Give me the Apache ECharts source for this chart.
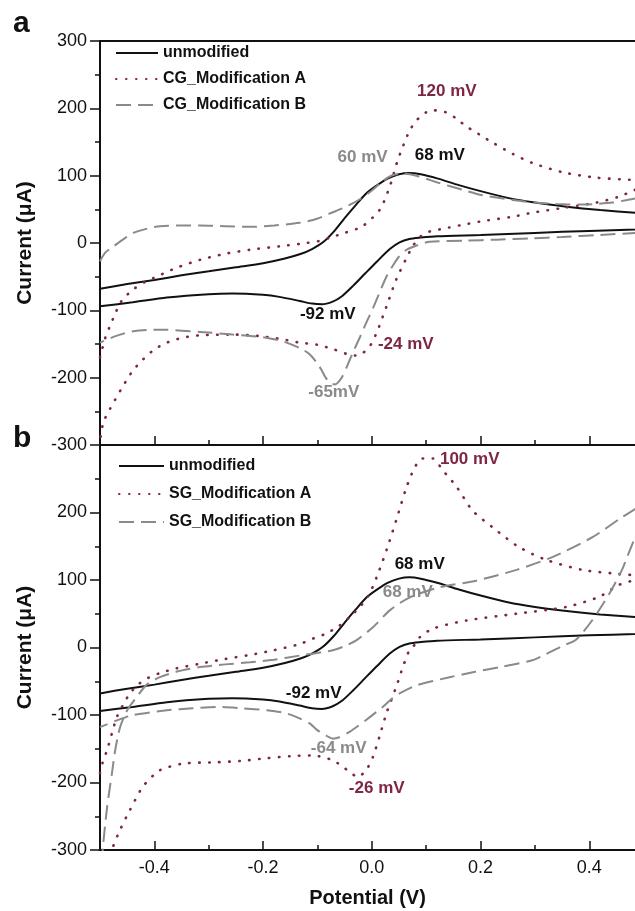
<!DOCTYPE html>
<html>
<head>
<meta charset="utf-8">
<script src="https://cdn.jsdelivr.net/npm/echarts@6/dist/echarts.min.js"></script>
<style>html,body{margin:0;padding:0;background:#fff}#c{width:635px;height:911px}</style>
</head>
<body>
<div id="c"></div>
<script>
// ---------- data ----------
const xTickValues = [-0.4, -0.2, 0, 0.2, 0.4];
const xMinorTickValues = [-0.5, -0.3, -0.1, 0.1, 0.3];

const unmodified = [
  [-0.5,-68],[-0.45,-61],[-0.4,-55],[-0.35,-48],[-0.3,-42],[-0.25,-36],[-0.2,-30],[-0.16,-23],[-0.13,-16],[-0.11,-9],
  [-0.09,1],[-0.07,17],[-0.05,37],[-0.03,56],[-0.01,74],[0.01,86],[0.03,96],[0.05,102],[0.069,104],[0.09,102],
  [0.12,96],[0.16,86],[0.2,77],[0.25,67],[0.3,60],[0.358,54],[0.42,49],[0.484,45],[0.5,44],
  [0.5,21],[0.484,20],[0.4,18],[0.3,15],[0.2,12],[0.12,10],[0.09,8],[0.069,6],[0.051,1],[0.033,-9],[0.01,-27],
  [-0.012,-45],[-0.035,-64],[-0.055,-79],[-0.072,-87],[-0.092,-91],[-0.11,-90],[-0.133,-86],[-0.17,-80],[-0.2,-77],
  [-0.256,-75],[-0.3,-76],[-0.377,-81],[-0.44,-88],[-0.5,-94]
];

const cgModificationA = [
  [-0.5,-170],[-0.49,-140],[-0.482,-124],[-0.472,-105],[-0.463,-89],[-0.45,-77],[-0.439,-69],[-0.42,-59],[-0.396,-50],
  [-0.36,-37],[-0.316,-25],[-0.27,-16],[-0.224,-10],[-0.17,-5],[-0.12,0],[-0.09,4],[-0.077,8],[-0.05,15],[-0.017,25],
  [0.015,50],[0.033,84],[0.046,119],[0.055,139],[0.069,166],[0.082,182],[0.1,194],[0.115,197],[0.137,194],[0.155,185],
  [0.174,173],[0.2,160],[0.222,149],[0.26,132],[0.295,119],[0.351,105],[0.413,97],[0.474,94],[0.5,93],
  [0.5,84],[0.484,79],[0.455,69],[0.413,60],[0.351,52],[0.295,45],[0.259,39],[0.2,32],[0.167,27],[0.13,21],[0.106,17],
  [0.09,10],[0.075,-5],[0.064,-22],[0.045,-54],[0.027,-94],[0.009,-133],[-0.005,-155],[-0.018,-164],[-0.03,-167],
  [-0.045,-165],[-0.07,-158],[-0.101,-151],[-0.133,-148],[-0.164,-143],[-0.21,-138],[-0.256,-136],[-0.316,-137],
  [-0.35,-141],[-0.377,-148],[-0.4,-158],[-0.421,-173],[-0.44,-190],[-0.458,-213],[-0.482,-247],[-0.494,-267],[-0.501,-300]
];

const cgModificationB = [
  [-0.5,-27],[-0.49,-14],[-0.475,-5],[-0.458,5],[-0.439,15],[-0.415,21],[-0.39,25],[-0.35,26],[-0.316,26],[-0.27,25],
  [-0.224,24],[-0.18,26],[-0.133,30],[-0.101,36],[-0.077,44],[-0.05,53],[-0.022,65],[0,78],[0.02,92],[0.039,101],
  [0.06,103],[0.082,100],[0.124,89],[0.167,79],[0.203,71],[0.259,64],[0.3,60],[0.34,58],[0.382,57],[0.413,58],
  [0.443,60],[0.47,64],[0.484,66],[0.5,70],
  [0.5,16],[0.484,15],[0.42,12],[0.35,9],[0.295,7],[0.23,5],[0.174,3.5],[0.106,2],[0.085,-3],[0.064,-10],[0.05,-20],
  [0.04,-32],[0.028,-48],[0.015,-72],[0.003,-95],[-0.01,-118],[-0.022,-140],[-0.035,-163],[-0.045,-182],[-0.054,-198],
  [-0.062,-207],[-0.068,-210],[-0.076,-208],[-0.085,-200],[-0.093,-188],[-0.101,-178],[-0.115,-165],[-0.13,-157],
  [-0.164,-146],[-0.2,-140],[-0.256,-136],[-0.316,-132],[-0.377,-129],[-0.41,-129],[-0.439,-131],[-0.47,-138],[-0.5,-148]
];

const sgModificationA = [
  [-0.5,-186],[-0.495,-170],[-0.487,-152],[-0.478,-127],[-0.469,-103],[-0.457,-84],[-0.445,-68],[-0.43,-55],[-0.414,-46],
  [-0.39,-38],[-0.36,-31],[-0.316,-24],[-0.27,-17],[-0.224,-11],[-0.18,-4],[-0.133,5],[-0.109,13],[-0.083,21],[-0.06,32],
  [-0.041,45],[-0.02,62],[-0.004,80],[0.014,115],[0.029,149],[0.045,189],[0.064,238],[0.079,267],[0.093,280],[0.112,280],
  [0.13,263],[0.156,238],[0.185,203],[0.222,178],[0.27,149],[0.32,130],[0.387,115],[0.44,110],[0.484,107],[0.5,106],
  [0.5,104],[0.484,100],[0.455,93],[0.418,75],[0.357,60],[0.266,50],[0.174,40],[0.112,28],[0.088,15],[0.075,0],
  [0.069,-4],[0.057,-29],[0.045,-58],[0.027,-97],[0.014,-132],[0.002,-162],[-0.01,-181],[-0.026,-192],[-0.041,-184],
  [-0.072,-167],[-0.109,-160],[-0.15,-161],[-0.193,-164],[-0.24,-168],[-0.285,-170],[-0.347,-172],[-0.39,-182],
  [-0.421,-206],[-0.445,-241],[-0.463,-270],[-0.476,-295],[-0.485,-320]
];

const sgModificationB = [
  [-0.497,-320],[-0.494,-290],[-0.487,-237],[-0.478,-186],[-0.472,-152],[-0.463,-118],[-0.45,-93],[-0.432,-73],
  [-0.414,-55],[-0.39,-44],[-0.36,-36],[-0.316,-29],[-0.27,-25],[-0.224,-22],[-0.18,-18],[-0.133,-12],[-0.1,-8],
  [-0.072,-4],[-0.05,2],[-0.028,11],[0.002,30],[0.033,55],[0.069,74],[0.124,89],[0.192,99],[0.266,115],[0.332,134],
  [0.405,163],[0.46,193],[0.484,205],[0.5,215],
  [0.5,195],[0.484,163],[0.47,135],[0.46,115],[0.437,80],[0.405,40],[0.376,12],[0.35,2],[0.32,-10],[0.295,-19],
  [0.235,-29],[0.19,-36],[0.143,-44],[0.082,-56],[0.051,-68],[0.035,-77],[0.02,-88],[-0.01,-107],[-0.041,-125],
  [-0.06,-133],[-0.072,-135],[-0.085,-130],[-0.101,-122],[-0.115,-112],[-0.133,-105],[-0.16,-97],[-0.193,-93],
  [-0.24,-90],[-0.285,-88],[-0.33,-90],[-0.377,-93],[-0.439,-100],[-0.469,-108],[-0.5,-118]
];

const legendNamesA = ['unmodified', 'CG_Modification A', 'CG_Modification B'];
const legendNamesB = ['unmodified', 'SG_Modification A', 'SG_Modification B'];
const peakTextsA = ['120 mV', '60 mV', '68 mV', '-92 mV', '-24 mV', '-65mV'];
const peakTextsB = ['100 mV', '68 mV', '68 mV', '-92 mV', '-64 mV', '-26 mV'];

// ---------- styling / layout ----------
const FONT = 'Liberation Sans, Arial, Helvetica, sans-serif';
const BLACK = '#111111';
const MAROON = '#7e2645';
const GRAY = '#8a8a8a';
const styles = [
  { color: BLACK, width: 2, type: 'solid' },
  { color: MAROON, width: 2.6, type: [0.5, 9.5], cap: 'round' },
  { color: GRAY, width: 2, type: [15, 7] }
];
// label anchors (data coordinates of label centers) and colours
const peakPosA = [[0.138,225],[-0.017,128],[0.125,130],[-0.081,-106],[0.0625,-151],[-0.07,-222]];
const peakPosB = [[0.18,279],[0.088,123],[0.066,82],[-0.107,-68],[-0.061,-149],[0.009,-208]];
const peakColA = [MAROON, GRAY, BLACK, BLACK, MAROON, GRAY];
const peakColB = [MAROON, BLACK, GRAY, BLACK, GRAY, MAROON];

const XMIN = -0.5, XMAX = 0.484;

function lineSeries(name, data, xi, yi, st) {
  return {
    type: 'line', name, data, xAxisIndex: xi, yAxisIndex: yi,
    symbol: 'none', showSymbol: false, smooth: 0.25, clip: true,
    animation: false, silent: true,
    lineStyle: { color: st.color, width: st.width, type: st.type, cap: st.cap || 'butt' },
    itemStyle: { color: st.color }
  };
}
function labelSeries(texts, pos, cols, xi, yi) {
  return {
    type: 'scatter', xAxisIndex: xi, yAxisIndex: yi, symbolSize: 1, silent: true, animation: false,
    itemStyle: { color: 'rgba(0,0,0,0)', opacity: 1 }, z: 10,
    data: texts.map((t, i) => ({
      name: t, value: pos[i],
      label: { show: true, position: 'inside', formatter: t, color: cols[i], opacity: 1,
               fontSize: 17, fontWeight: 'bold', fontFamily: FONT }
    }))
  };
}
function xAxisBase(gi) {
  return { type: 'value', gridIndex: gi, min: XMIN, max: XMAX, splitLine: { show: false } };
}
function yAxisDef(gi, showMax) {
  return {
    type: 'value', gridIndex: gi, min: -300, max: 300, interval: 100,
    axisLine: { show: true, onZero: false, lineStyle: { color: BLACK, width: 2 } },
    axisTick: { show: true, inside: false, length: 10, lineStyle: { color: BLACK, width: 1.5 } },
    minorTick: { show: true, splitNumber: 2, length: 5, lineStyle: { color: BLACK, width: 1.5 } },
    splitLine: { show: false },
    axisLabel: { fontSize: 18, color: BLACK, fontFamily: FONT, margin: 13, showMaxLabel: showMax },
    name: 'Current (\u03bcA)', nameLocation: 'middle', nameGap: 64,
    nameTextStyle: { fontSize: 21, fontWeight: 'bold', color: BLACK, fontFamily: FONT }
  };
}
const legendText = { fontSize: 16, fontWeight: 'bold', color: BLACK, fontFamily: FONT };

const chart = echarts.init(document.getElementById('c'), null, { renderer: 'canvas' });
const option = {
  animation: false,
  backgroundColor: '#fff',
  grid: [
    { left: 100, top: 41, right: 0, height: 404, containLabel: false },
    { left: 100, top: 445, right: 0, height: 405, containLabel: false }
  ],
  xAxis: [
    Object.assign(xAxisBase(0), {
      position: 'bottom',
      axisLine: { show: true, onZero: false, lineStyle: { color: BLACK, width: 2 } },
      axisTick: { show: true, inside: true, length: 9, customValues: xTickValues, lineStyle: { color: BLACK, width: 1.5 } },
      axisLabel: { show: false }
    }),
    Object.assign(xAxisBase(0), {
      position: 'bottom',
      axisLine: { show: false, onZero: false },
      axisTick: { show: true, inside: true, length: 5, customValues: xMinorTickValues, lineStyle: { color: BLACK, width: 1.5 } },
      axisLabel: { show: false }
    }),
    Object.assign(xAxisBase(0), {
      position: 'top',
      axisLine: { show: true, onZero: false, lineStyle: { color: BLACK, width: 2 } },
      axisTick: { show: false }, axisLabel: { show: false }
    }),
    Object.assign(xAxisBase(1), {
      position: 'bottom',
      axisLine: { show: true, onZero: false, lineStyle: { color: BLACK, width: 2 } },
      axisTick: { show: true, inside: true, length: 9, customValues: xTickValues, lineStyle: { color: BLACK, width: 1.5 } },
      axisLabel: { show: true, customValues: xTickValues, formatter: v => v.toFixed(1),
                   fontSize: 18, color: BLACK, fontFamily: FONT, margin: 9 },
      name: 'Potential (V)', nameLocation: 'middle', nameGap: 38,
      nameTextStyle: { fontSize: 20, fontWeight: 'bold', color: BLACK, fontFamily: FONT }
    }),
    Object.assign(xAxisBase(1), {
      position: 'bottom',
      axisLine: { show: false, onZero: false },
      axisTick: { show: true, inside: true, length: 5, customValues: xMinorTickValues, lineStyle: { color: BLACK, width: 1.5 } },
      axisLabel: { show: false }
    })
  ],
  yAxis: [ yAxisDef(0, true), yAxisDef(1, false) ],
  legend: [
    { data: legendNamesA, orient: 'vertical', left: 115, top: 45, padding: 0,
      itemWidth: 42, itemHeight: 14, itemGap: 10, selectedMode: false,
      itemStyle: { opacity: 0 }, textStyle: legendText },
    { data: legendNamesB, orient: 'vertical', left: 118, top: 458, padding: 0,
      itemWidth: 45, itemHeight: 14, itemGap: 12, selectedMode: false,
      itemStyle: { opacity: 0 }, textStyle: legendText }
  ],
  graphic: [
    { type: 'text', left: 13, top: 9, style: { text: 'a', font: 'bold 30px ' + FONT, fill: BLACK } },
    { type: 'text', left: 13, top: 424, style: { text: 'b', font: 'bold 30px ' + FONT, fill: BLACK } }
  ],
  series: [
    lineSeries('unmodified', unmodified, 0, 0, styles[0]),
    lineSeries('CG_Modification A', cgModificationA, 0, 0, styles[1]),
    lineSeries('CG_Modification B', cgModificationB, 0, 0, styles[2]),
    lineSeries('unmodified', unmodified, 3, 1, styles[0]),
    lineSeries('SG_Modification A', sgModificationA, 3, 1, styles[1]),
    lineSeries('SG_Modification B', sgModificationB, 3, 1, styles[2]),
    labelSeries(peakTextsA, peakPosA, peakColA, 0, 0),
    labelSeries(peakTextsB, peakPosB, peakColB, 3, 1)
  ]
};
chart.setOption(option);
</script>
</body>
</html>
